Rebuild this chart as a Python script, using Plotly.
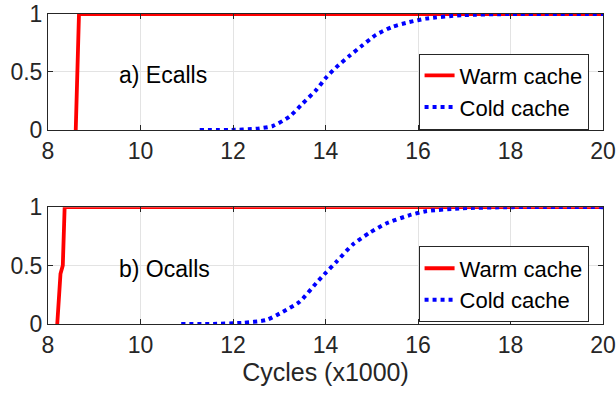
import plotly.graph_objects as go

# ---- data ----
warm_e_x = [8.60, 8.63, 8.67, 20.0]
warm_e_y = [0.0, 0.5, 1.0, 1.0]
cold_e_x = [11.28, 11.92, 12.50, 12.86, 13.22, 13.51, 13.80, 14.01, 14.23, 14.52, 14.80, 15.09, 15.45, 15.81, 16.17, 16.96, 18.04, 20.0]
cold_e_y = [0.0, 0.0, 0.01, 0.034, 0.115, 0.23, 0.345, 0.45, 0.54, 0.64, 0.73, 0.82, 0.89, 0.93, 0.96, 0.99, 1.0, 1.0]

warm_o_x = [8.20, 8.27, 8.32, 8.36, 20.0]
warm_o_y = [0.0, 0.43, 0.50, 1.0, 1.0]
cold_o_x = [10.88, 11.49, 12.20, 12.72, 13.08, 13.44, 13.80, 14.01, 14.23, 14.59, 14.95, 15.31, 15.81, 16.17, 16.96, 18.04, 20.0]
cold_o_y = [0.0, 0.0, 0.01, 0.034, 0.105, 0.19, 0.35, 0.44, 0.53, 0.68, 0.78, 0.86, 0.93, 0.965, 0.99, 1.0, 1.0]

x_ticks = [8, 10, 12, 14, 16, 18, 20]
y_ticks = [0, 0.5, 1]
y_ticklabels = ["0", "0.5", "1"]
labels = ["a) Ecalls", "b) Ocalls"]
series_names = ["Warm cache", "Cold cache"]

RED = "#ff0000"
BLUE = "#0000ff"
FONT = "Liberation Sans"

fig = go.Figure()
fig.add_trace(go.Scatter(x=warm_e_x, y=warm_e_y, mode="lines", name=series_names[0],
                         line=dict(color=RED, width=3.8), xaxis="x", yaxis="y", legend="legend"))
fig.add_trace(go.Scatter(x=cold_e_x, y=cold_e_y, mode="lines", name=series_names[1],
                         line=dict(color=BLUE, width=4, dash="dot", shape="spline", smoothing=0.6),
                         xaxis="x", yaxis="y", legend="legend"))
fig.add_trace(go.Scatter(x=warm_o_x, y=warm_o_y, mode="lines", name=series_names[0],
                         line=dict(color=RED, width=3.8), xaxis="x2", yaxis="y2", legend="legend2"))
fig.add_trace(go.Scatter(x=cold_o_x, y=cold_o_y, mode="lines", name=series_names[1],
                         line=dict(color=BLUE, width=4, dash="dot", shape="spline", smoothing=0.6),
                         xaxis="x2", yaxis="y2", legend="legend2"))

axis_common = dict(showline=True, linecolor="#262626", linewidth=1, mirror="ticks",
                   ticks="inside", ticklen=5, tickcolor="#262626", automargin=False,
                   showgrid=True, gridcolor="#e3e3e3", gridwidth=1, zeroline=False,
                   tickfont=dict(family=FONT, size=23, color="#262626"))

xa = dict(axis_common, range=[8, 20], tickvals=x_ticks)
ya = dict(axis_common, range=[0, 1], tickvals=y_ticks, ticktext=y_ticklabels)

legend_common = dict(font=dict(family=FONT, size=22, color="#000000"),
                     bgcolor="white", bordercolor="#262626", borderwidth=1,
                     xanchor="right", yanchor="bottom", x=0.974,
                     tracegroupgap=0, itemwidth=30)

fig.update_layout(
    width=616, height=393,
    margin=dict(l=48, r=13, t=14, b=69, autoexpand=False),
    paper_bgcolor="white", plot_bgcolor="white",
    showlegend=True,
    xaxis=dict(xa, domain=[0, 1], anchor="y"),
    yaxis=dict(ya, domain=[0.626, 1.0], anchor="x"),
    xaxis2=dict(xa, domain=[0, 1], anchor="y2",
                title=dict(text="Cycles (x1000)", font=dict(family=FONT, size=25, color="#262626"),
                           standoff=4)),
    yaxis2=dict(ya, domain=[0.0, 0.377], anchor="x2"),
    legend=dict(legend_common, y=0.627),
    legend2=dict(legend_common, y=0.005),
    annotations=[
        dict(text=labels[0], x=9.5, y=0.47, xref="x", yref="y", showarrow=False,
             xanchor="left", font=dict(family=FONT, size=23, color="#000000")),
        dict(text=labels[1], x=9.5, y=0.47, xref="x2", yref="y2", showarrow=False,
             xanchor="left", font=dict(family=FONT, size=23, color="#000000")),
    ],
)

fig.write_html("out.html", config={"displayModeBar": False},
               post_script="document.body.style.margin='0';document.body.style.overflow='hidden';")
